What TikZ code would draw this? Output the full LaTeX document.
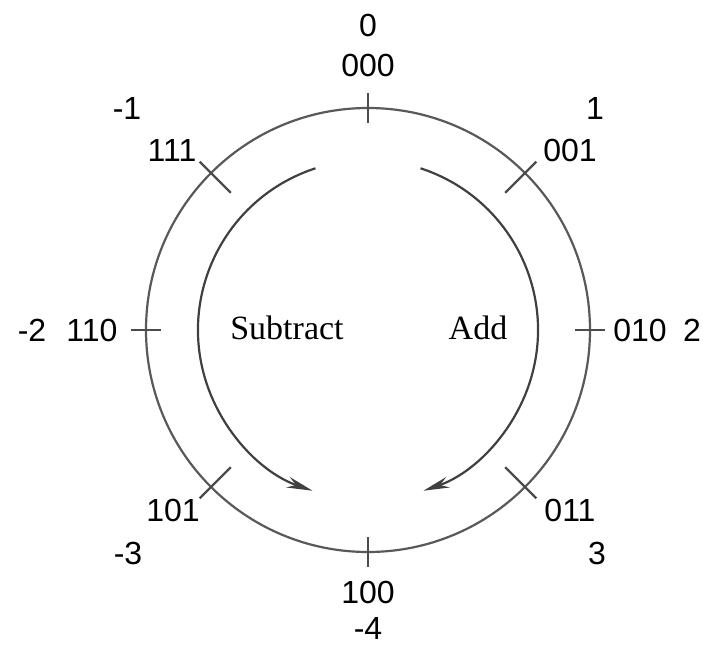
\documentclass[tikz,border=0pt]{standalone}
\usepackage{fontspec}
\setmainfont{Liberation Serif}
\newfontfamily\numfont{Liberation Sans}
\usetikzlibrary{arrows.meta}

\begin{document}
\begin{tikzpicture}[x=1pt,y=1pt,
  ring/.style={draw=black!65,line width=2.2pt},
  tick/.style={draw=black!70,line width=2.2pt},
  dir/.style={draw=black!75,line width=2.2pt,-{Stealth[length=26pt,width=11pt]}},
  num/.style={font=\numfont\fontsize{32}{36}\selectfont,inner sep=0pt},
  word/.style={font=\fontsize{34}{38}\selectfont,inner sep=0pt}]
\useasboundingbox (-368,-318) rectangle (336,330);
\coordinate (c) at (0,0);
% outer ring with ticks
\draw[ring] (c) circle (222);
\foreach \a in {0,90,180,270} \draw[tick] (\a:207) -- (\a:237);
\foreach \a in {45,135,225,315} \draw[tick] (\a:194) -- (\a:238);
% codes and values
\node[num] (b0) at (0,265) {000};    \node[num] (d0) at (0,305) {0};
\node[num] (b1) at (202,180) {001};  \node[num] (d1) at (227,222) {1};
\node[num] (b2) at (272,0) {010};    \node[num] (d2) at (324,0) {2};
\node[num] (b3) at (202,-180) {011}; \node[num] (d3) at (229,-223) {3};
\node[num] (b4) at (0,-262) {100};   \node[num] (d4) at (0,-298) {-4};
\node[num] (b5) at (-195,-180) {101};\node[num] (d5) at (-240,-223) {-3};
\node[num] (b6) at (-276,0) {110};   \node[num] (d6) at (-336,0) {-2};
\node[num] (b7) at (-196,180) {111}; \node[num] (d7) at (-241,222) {-1};
% directions
\node[word] (sub) at (-81,2) {Subtract};
\node[word] (add) at (110,2) {Add};
\coordinate (s0) at (108:170);
\coordinate (a0) at (72:170);
\draw[dir] (s0) arc[start angle=108,end angle=251,radius=170];
\draw[dir] (a0) arc[start angle=72,end angle=-71,radius=170];
\end{tikzpicture}
\end{document}
